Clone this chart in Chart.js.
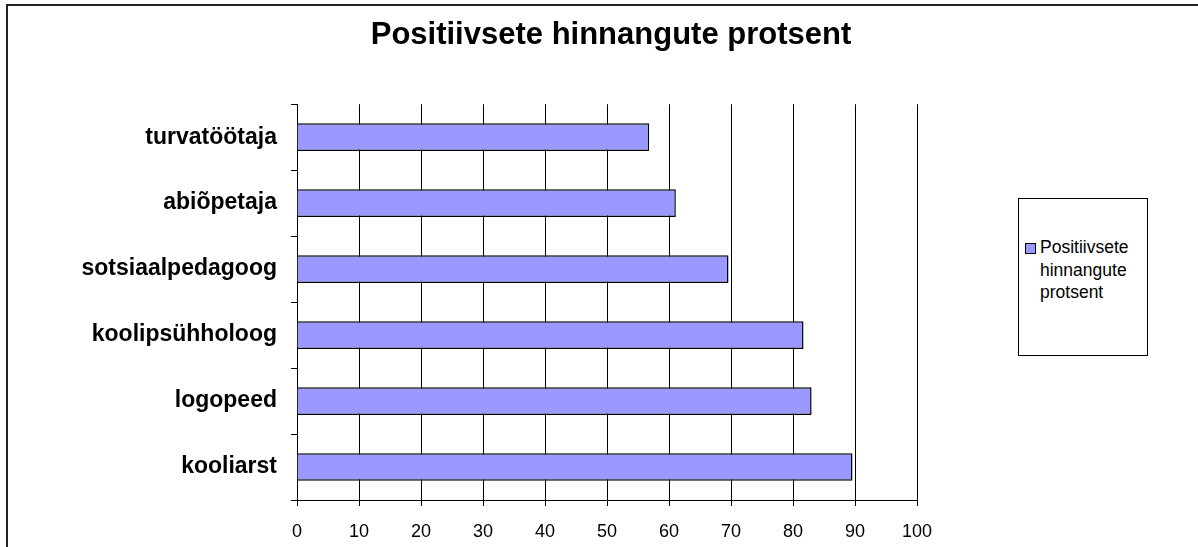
<!DOCTYPE html>
<html>
<head>
<meta charset="utf-8">
<script src="https://cdn.jsdelivr.net/npm/chart.js@4.4.1/dist/chart.umd.min.js"></script>
<style>
    html, body { margin: 0; padding: 0; background: #fff; overflow: hidden; }
    #wrap { position: relative; width: 1198px; height: 547px; }
    #frame {
        position: absolute; left: 6px; top: 4px; width: 1300px; height: 700px;
        border: 2px solid #222; pointer-events: none;
    }
    #legend {
        position: absolute; left: 1018px; top: 198px; width: 128px; height: 156px;
        border: 1px solid #000; background: #fff;
        font-family: Arial, 'Liberation Sans', sans-serif; font-size: 17.5px; color: #000;
    }
    #legend .sw {
        position: absolute; left: 6px; top: 44px; width: 9px; height: 9px;
        background: #9999ff; border: 1px solid #000;
    }
    #legend .txt { position: absolute; left: 21px; top: 37px; line-height: 22.5px; }
</style>
</head>
<body>
<div id="wrap">
    <canvas id="myChart" width="1198" height="547"></canvas>
    <div id="legend"><div class="sw"></div><div class="txt" id="legend-text"></div></div>
    <div id="frame"></div>
</div>
<script>
    // data
    const categories = ['turvatöötaja', 'abiõpetaja', 'sotsiaalpedagoog', 'koolipsühholoog', 'logopeed', 'kooliarst'];
    const values = [56.8, 61.1, 69.6, 81.7, 83.0, 89.6];
    const seriesName = 'Positiivsete hinnangute protsent';
    const legendLines = ['Positiivsete', 'hinnangute', 'protsent'];
    const xMin = 0, xMax = 100, xStep = 10;

    Chart.defaults.color = '#000';
    Chart.defaults.font.family = "Arial, 'Liberation Sans', sans-serif";

    // legend is html so the text can wrap like the original
    document.getElementById('legend-text').innerHTML = legendLines.join('<br>');

    const ctx = document.getElementById('myChart');
    const chart = new Chart(ctx, {
        type: 'bar',
        data: {
            labels: categories,
            datasets: [{
                label: seriesName,
                data: values,
                backgroundColor: '#9999ff',
                borderColor: '#000',
                borderWidth: 1.5,
                categoryPercentage: 1,
                barPercentage: 0.42
            }]
        },
        options: {
            indexAxis: 'y',
            responsive: false,
            animation: false,
            layout: { padding: { left: 24, right: 0, top: 0, bottom: 0 } },
            plugins: {
                legend: { display: false },
                tooltip: { enabled: false },
                title: {
                    display: true,
                    text: seriesName,
                    font: { size: 31, weight: 'bold' },
                    color: '#000',
                    padding: { top: 17, bottom: 50 }
                }
            },
            scales: {
                x: {
                    min: xMin,
                    max: xMax,
                    ticks: { stepSize: xStep, font: { size: 18 }, padding: 15, color: '#000' },
                    grid: { color: '#000', lineWidth: 1, tickLength: 6, drawTicks: true },
                    border: { color: '#000', width: 1 },
                    afterFit(scale) { scale.height = 47; }
                },
                y: {
                    ticks: { font: { size: 23, weight: 'bold' }, padding: 14, color: '#000' },
                    grid: { drawOnChartArea: false, color: '#000', tickLength: 6, offset: true },
                    border: { color: '#000', width: 1 },
                    afterFit(scale) { scale.width = 273; }
                },
                // empty axis on the right keeps room for the legend box
                side: {
                    type: 'category',
                    position: 'right',
                    axis: 'y',
                    ticks: { display: false },
                    grid: { display: false },
                    border: { display: false },
                    afterFit(scale) { scale.width = 281; }
                }
            }
        }
    });
</script>
</body>
</html>
